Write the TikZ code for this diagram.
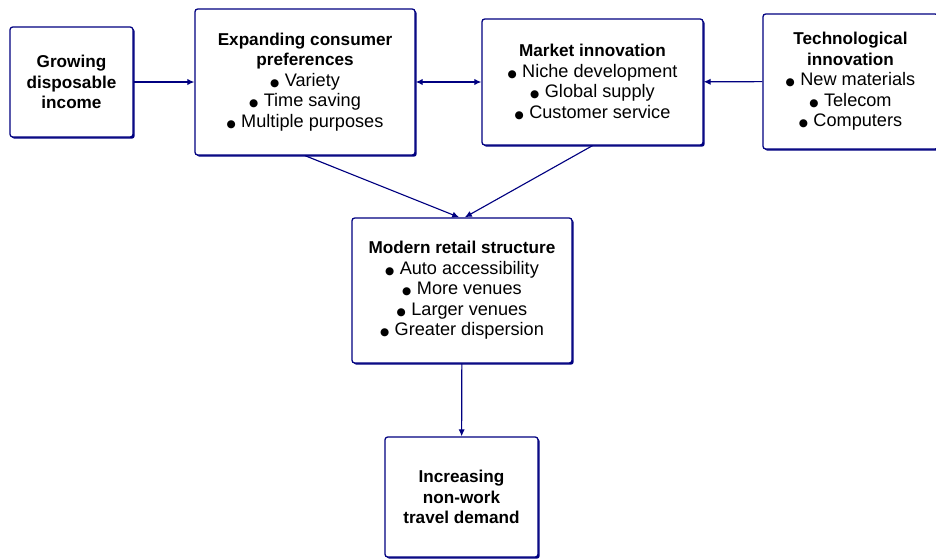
\documentclass[tikz,border=0pt]{standalone}
\usepackage{fontspec}
\setmainfont{Liberation Sans}
\newfontfamily\symfont{DejaVu Sans}
\definecolor{navy1}{RGB}{0, 0, 128}
\usetikzlibrary{arrows.meta, shadows}
\newcommand{\blt}{{\symfont\fontsize{7.5}{8}\selectfont ●}\hspace{0.3em}}
\newcommand{\hd}[1]{{\fontsize{12.2}{14.6}\selectfont\bfseries #1}}

\tikzset{
  factor/.style={draw=navy1, line width=0.9pt, fill=white, rounded corners=2pt, align=center,
    inner sep=0pt, font=\fontsize{12.9}{14.6}\selectfont,
    drop shadow={shadow xshift=1.2pt, shadow yshift=-1.2pt, fill=navy1, opacity=1}},
  link/.style={draw=navy1, line width=0.8pt, -{Latex[length=5pt, width=4.5pt]}}
}

\begin{document}
\begin{tikzpicture}[x=0.025cm, y=-0.025cm]
  \useasboundingbox (0,0) rectangle (936,559);

  % top row
  \node[factor, minimum width=3.075cm, minimum height=2.75cm] (income) at (71.5,82)
    {\hd{Growing}\\ \hd{disposable}\\ \hd{income}};
  \node[factor, minimum width=5.5cm, minimum height=3.65cm] (prefs) at (305,82)
    {\hd{Expanding consumer}\\ \hd{preferences}\\ \blt Variety\\ \blt Time saving\\ \blt Multiple purposes};
  \node[factor, minimum width=5.525cm, minimum height=3.15cm] (market) at (592.5,82)
    {\hd{Market innovation}\\ \blt Niche development\\ \blt Global supply\\ \blt Customer service};
  \node[factor, minimum width=4.375cm, minimum height=3.375cm] (tech) at (850.5,81.5)
    {\hd{Technological}\\ \hd{innovation}\\ \blt New materials\\ \blt Telecom\\ \blt Computers};

  % lower boxes
  \node[factor, minimum width=5.5cm, minimum height=3.625cm] (retail) at (462,290.5)
    {\hd{Modern retail structure}\\ \blt Auto accessibility\\ \blt More venues\\ \blt Larger venues\\ \blt Greater dispersion};
  \node[factor, minimum width=3.825cm, minimum height=3cm] (travel) at (461.5,497)
    {\hd{Increasing}\\ \hd{non-work}\\ \hd{travel demand}};

  % connectors
  \draw[link] (income) -- (prefs);
  \draw[link, {Latex[length=5pt, width=4.5pt]}-{Latex[length=5pt, width=4.5pt]}] (prefs) -- (market);
  \draw[link] (tech) -- (market);
  \draw[link] (prefs.south) -- ([xshift=-2pt]retail.north);
  \draw[link] (market.south) -- ([xshift=2pt]retail.north);
  \draw[link] (retail) -- (travel);
\end{tikzpicture}
\end{document}
